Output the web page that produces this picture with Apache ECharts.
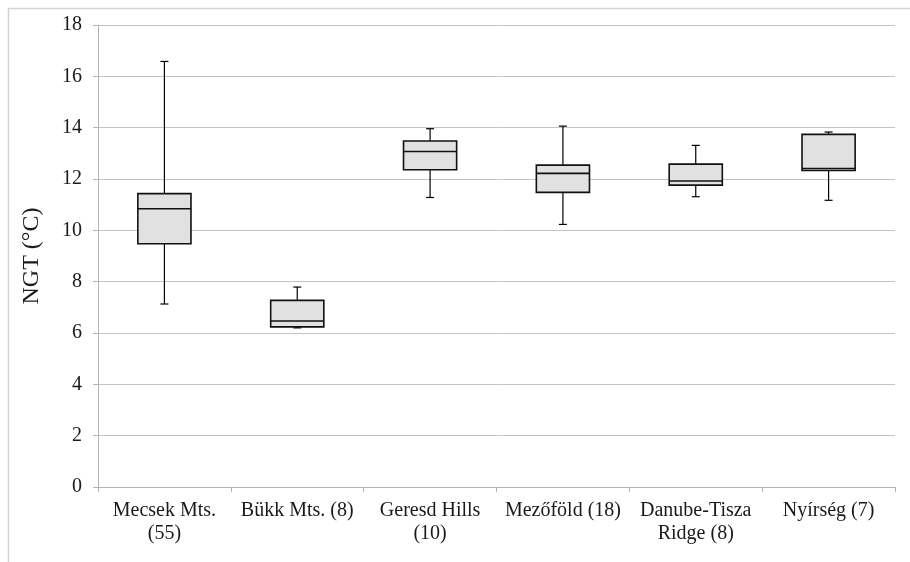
<!DOCTYPE html>
<html>
<head>
<meta charset="utf-8">
<script src="https://cdn.jsdelivr.net/npm/echarts@6/dist/echarts.min.js"></script>
<style>
html,body{margin:0;padding:0;background:#fff;}
#main{width:910px;height:562px;}
</style>
</head>
<body>
<div id="main"></div>
<script>
var categories = ['Mecsek Mts.\n(55)', 'Bükk Mts. (8)', 'Geresd Hills\n(10)', 'Mezőföld (18)', 'Danube-Tisza\nRidge (8)', 'Nyírség (7)'];
var whiskerLow = [7.13, 6.2, 11.28, 10.23, 11.31, 11.17];
var q1 = [9.48, 6.24, 12.36, 11.48, 11.76, 12.33];
var median = [10.84, 6.47, 13.07, 12.22, 11.92, 12.41];
var q3 = [11.43, 7.27, 13.48, 12.54, 12.58, 13.74];
var whiskerHigh = [16.58, 7.79, 13.96, 14.06, 13.31, 13.83];
var yTicks = [0, 2, 4, 6, 8, 10, 12, 14, 16, 18];

var font = '"Liberation Serif", "Times New Roman", serif';
var data = categories.map(function (c, i) {
  return [i, whiskerLow[i], q1[i], median[i], q3[i], whiskerHigh[i]];
});

function renderItem(params, api) {
  var i = api.value(0);
  var pLow = api.coord([i, api.value(1)]);
  var pQ1 = api.coord([i, api.value(2)]);
  var pMed = api.coord([i, api.value(3)]);
  var pQ3 = api.coord([i, api.value(4)]);
  var pHigh = api.coord([i, api.value(5)]);
  var bw = api.size([1, 0])[0] * 0.4;
  var cap = 4;
  var x = pMed[0];
  return {
    type: 'group',
    children: [
      { type: 'line', shape: { x1: x, y1: pLow[1], x2: x, y2: pHigh[1] }, style: { stroke: '#000', lineWidth: 1.2 } },
      { type: 'line', shape: { x1: x - cap, y1: pLow[1], x2: x + cap, y2: pLow[1] }, style: { stroke: '#000', lineWidth: 1.2 } },
      { type: 'line', shape: { x1: x - cap, y1: pHigh[1], x2: x + cap, y2: pHigh[1] }, style: { stroke: '#000', lineWidth: 1.2 } },
      { type: 'rect', shape: { x: x - bw / 2, y: pQ3[1], width: bw, height: pQ1[1] - pQ3[1] }, style: { fill: '#e1e1e1', stroke: '#111', lineWidth: 1.6 } },
      { type: 'line', shape: { x1: x - bw / 2, y1: pMed[1], x2: x + bw / 2, y2: pMed[1] }, style: { stroke: '#111', lineWidth: 1.6 } }
    ]
  };
}

var chart = echarts.init(document.getElementById('main'), null, { renderer: 'canvas' });
chart.setOption({
  animation: false,
  backgroundColor: '#fff',
  graphic: [{
    type: 'rect', left: 6, top: 6, z: -10,
    shape: { width: 1000, height: 1000 },
    style: { fill: 'none', stroke: '#d4d4d4', lineWidth: 1.5 }
  }],
  grid: { left: 98, right: 15, top: 25, bottom: 75, containLabel: false },
  xAxis: {
    type: 'category',
    data: categories,
    axisLine: { lineStyle: { color: '#b3b3b3', width: 1 } },
    axisTick: { show: true, length: 5, lineStyle: { color: '#b3b3b3' } },
    axisLabel: { interval: 0, margin: 12, color: '#1a1a1a', fontFamily: font, fontSize: 20, lineHeight: 23 },
    splitLine: { show: false }
  },
  yAxis: {
    type: 'value',
    min: yTicks[0], max: yTicks[yTicks.length - 1], interval: 2,
    name: 'NGT (°C)',
    nameLocation: 'middle',
    nameGap: 54,
    nameRotate: 90,
    nameTextStyle: { fontFamily: font, fontSize: 24, color: '#1a1a1a' },
    axisLine: { show: true, lineStyle: { color: '#b3b3b3', width: 1 } },
    axisTick: { show: true, length: 5, lineStyle: { color: '#b3b3b3' } },
    axisLabel: { margin: 16, color: '#1a1a1a', fontFamily: font, fontSize: 20 },
    splitLine: { lineStyle: { color: '#c4c4c4', width: 1 } }
  },
  series: [{
    type: 'custom',
    renderItem: renderItem,
    data: data,
    encode: { x: 0, y: [1, 2, 3, 4, 5] },
    z: 10
  }]
});
</script>
</body>
</html>
